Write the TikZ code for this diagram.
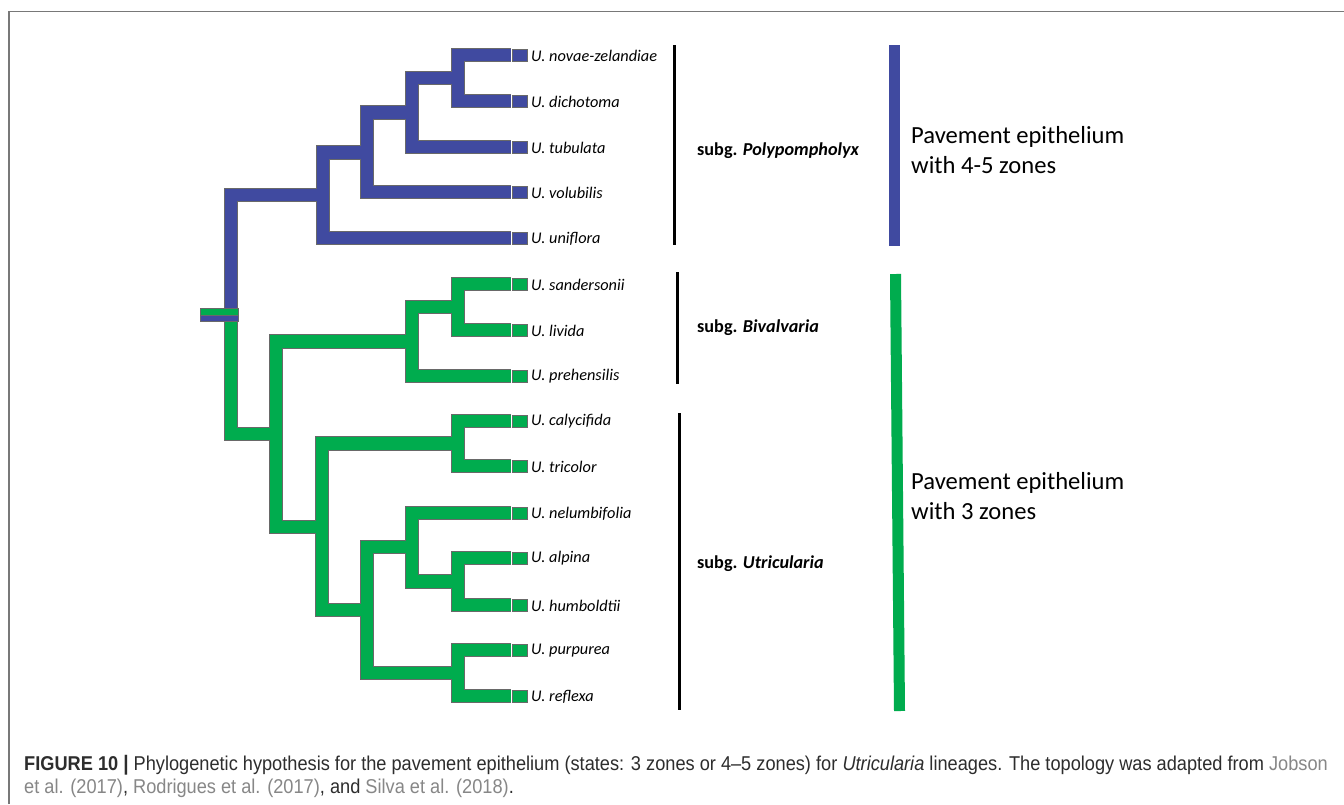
\documentclass[tikz,border=0pt]{standalone}
\usepackage{fontspec}
\usetikzlibrary{calc}
\setmainfont{Carlito}
\newfontfamily\capfont[FakeStretch=0.91]{Liberation Sans}
\definecolor{tblue}{RGB}{64,74,160}
\definecolor{tgreen}{RGB}{0,172,78}
\definecolor{edgegray}{RGB}{105,105,105}
\definecolor{framegray}{RGB}{120,120,120}
\definecolor{captxt}{RGB}{45,45,45}
\definecolor{citecol}{RGB}{135,135,135}
\tikzset{
  brout/.style={draw=edgegray, line width=14.5pt, line cap=butt, line join=miter},
  brin/.style={line width=12.5pt, line cap=butt, line join=miter},
  tipsq/.style={draw=edgegray, line width=0.7pt, minimum width=15pt, minimum height=12pt, inner sep=0pt, outer sep=0pt},
  taxon/.style={anchor=west, inner sep=0pt, font=\fontsize{16.3}{19}\selectfont\itshape},
  subglab/.style={anchor=west, inner sep=0pt, font=\fontsize{18.2}{22}\selectfont\bfseries},
  statelab/.style={anchor=west, inner sep=0pt, align=left, font=\fontsize{24.6}{30}\selectfont},
  cladebar/.style={draw=black, line width=3.5pt},
}
\begin{document}
\begin{tikzpicture}[x=1pt,y=-1pt]
\useasboundingbox (0,0) rectangle (1344,804);
\fill[white] (0,0) rectangle (1344,804);
% frame
\draw[framegray, line width=1.3pt] (9,804) -- (9,11.5) -- (1344,11.5);

% tip coordinates
\foreach \i/\y in {1/55,2/101,3/147,4/192,5/238,6/284,7/330,8/376,9/421,10/466,11/513,12/558,13/605,14/650,15/696}{
  \coordinate (t\i) at (511,\y);
}
% internal nodes
\coordinate (A) at (458,78);
\coordinate (B) at (412,112.5);
\coordinate (C) at (367,152.25);
\coordinate (D) at (323,195);
\coordinate (E) at (458,307);
\coordinate (F) at (412,341.5);
\coordinate (G) at (458,443.5);
\coordinate (H) at (458,581.5);
\coordinate (I) at (412,547);
\coordinate (J) at (458,673);
\coordinate (K) at (367,610);
\coordinate (L) at (322,527);
\coordinate (M) at (276,434);
\coordinate (Rb) at (231,308);
\coordinate (Rg) at (231,321);

% outlines
\foreach \s in {brout}{
\path[\s] (t1) -- (t1 -| A) -- (t2 -| A) -- (t2);
\path[\s] (A) -- (A -| B) -- (t3 -| B) -- (t3);
\path[\s] (B) -- (B -| C) -- (t4 -| C) -- (t4);
\path[\s] (C) -- (C -| D) -- (t5 -| D) -- (t5);
\path[\s] (D) -- (D -| Rb) -- (Rb);
\path[\s] (t6) -- (t6 -| E) -- (t7 -| E) -- (t7);
\path[\s] (E) -- (E -| F) -- (t8 -| F) -- (t8);
\path[\s] (t9) -- (t9 -| G) -- (t10 -| G) -- (t10);
\path[\s] (t12) -- (t12 -| H) -- (t13 -| H) -- (t13);
\path[\s] (t11) -- (t11 -| I) -- (H -| I) -- (H);
\path[\s] (t14) -- (t14 -| J) -- (t15 -| J) -- (t15);
\path[\s] (I) -- (I -| K) -- (J -| K) -- (J);
\path[\s] (G) -- (G -| L) -- (K -| L) -- (K);
\path[\s] (F) -- (F -| M) -- (L -| M) -- (L);
\path[\s] (Rg) -- (M -| Rg) -- (M);
}
% fills
\draw[brin, tblue] (t1) -- (t1 -| A) -- (t2 -| A) -- (t2);
\draw[brin, tblue] (A) -- (A -| B) -- (t3 -| B) -- (t3);
\draw[brin, tblue] (B) -- (B -| C) -- (t4 -| C) -- (t4);
\draw[brin, tblue] (C) -- (C -| D) -- (t5 -| D) -- (t5);
\draw[brin, tblue] (D) -- (D -| Rb) -- (Rb);
\draw[brin, tgreen] (t6) -- (t6 -| E) -- (t7 -| E) -- (t7);
\draw[brin, tgreen] (E) -- (E -| F) -- (t8 -| F) -- (t8);
\draw[brin, tgreen] (t9) -- (t9 -| G) -- (t10 -| G) -- (t10);
\draw[brin, tgreen] (t12) -- (t12 -| H) -- (t13 -| H) -- (t13);
\draw[brin, tgreen] (t11) -- (t11 -| I) -- (H -| I) -- (H);
\draw[brin, tgreen] (t14) -- (t14 -| J) -- (t15 -| J) -- (t15);
\draw[brin, tgreen] (I) -- (I -| K) -- (J -| K) -- (J);
\draw[brin, tgreen] (G) -- (G -| L) -- (K -| L) -- (K);
\draw[brin, tgreen] (F) -- (F -| M) -- (L -| M) -- (L);
\draw[brin, tgreen] (Rg) -- (M -| Rg) -- (M);
% root stub
\draw[edgegray, line width=0.6pt, fill=tgreen] (200,308) rectangle (238.5,315);
\draw[edgegray, line width=0.6pt, fill=tblue] (200,315) rectangle (238.5,321);

% tip squares and labels
\foreach \i/\n/\c in {1/novae-zelandiae/tblue,2/dichotoma/tblue,3/tubulata/tblue,4/volubilis/tblue,5/uniflora/tblue,6/sandersonii/tgreen,7/livida/tgreen,8/prehensilis/tgreen,9/calycifida/tgreen,10/tricolor/tgreen,11/nelumbifolia/tgreen,12/alpina/tgreen,13/humboldtii/tgreen,14/purpurea/tgreen,15/reflexa/tgreen}{
  \node[tipsq, fill=\c, anchor=west] (sq\i) at ($(t\i)+(1,0)$) {};
  \node[taxon] (lab\i) at ($(sq\i.east)+(4,0.5)$) {U. \n};
}

% clade bars
\coordinate (p1) at (674.5,45); \coordinate (p2) at (674.5,245);
\coordinate (b1) at (677.5,272); \coordinate (b2) at (677.5,384);
\coordinate (u1) at (679.5,413); \coordinate (u2) at (679.5,710);
\draw[cladebar] (p1) -- (p2);
\draw[cladebar] (b1) -- (b2);
\draw[cladebar] (u1) -- (u2);
\node[subglab] (gP) at (697,151) {subg. \textit{Polypompholyx}};
\node[subglab] (gB) at (697,328) {subg. \textit{Bivalvaria}};
\node[subglab] (gU) at (697,564) {subg. \textit{Utricularia}};

% state bars
\coordinate (s1) at (894.5,45); \coordinate (s2) at (894.5,246);
\coordinate (s3) at (895.5,274); \coordinate (s4) at (899.5,711);
\draw[tblue, line width=11pt] (s1) -- (s2);
\draw[tgreen, line width=11pt] (s3) -- (s4);
\node[statelab] (st1) at (911,150) {Pavement epithelium\\with 4-5 zones};
\node[statelab] (st2) at (911,496) {Pavement epithelium\\with 3 zones};

% caption
\node[anchor=base west, inner sep=0pt, text=captxt, font=\capfont\fontsize{20}{23}\selectfont] (cap1) at (24,770)
 {\textbf{FIGURE 10}\hspace{5pt}{\bfseries\fontsize{21}{23}\selectfont|}\ Phylogenetic hypothesis for the pavement epithelium (states: 3 zones or 4\textendash5 zones) for \textit{Utricularia} lineages. The topology was adapted from \textcolor{citecol}{Jobson}};
\node[anchor=base west, inner sep=0pt, text=captxt, font=\capfont\fontsize{20}{23}\selectfont] (cap2) at (24,793)
 {\textcolor{citecol}{et al. (2017)}, \textcolor{citecol}{Rodrigues et al. (2017)}, and \textcolor{citecol}{Silva et al. (2018)}.};
\end{tikzpicture}
\end{document}
